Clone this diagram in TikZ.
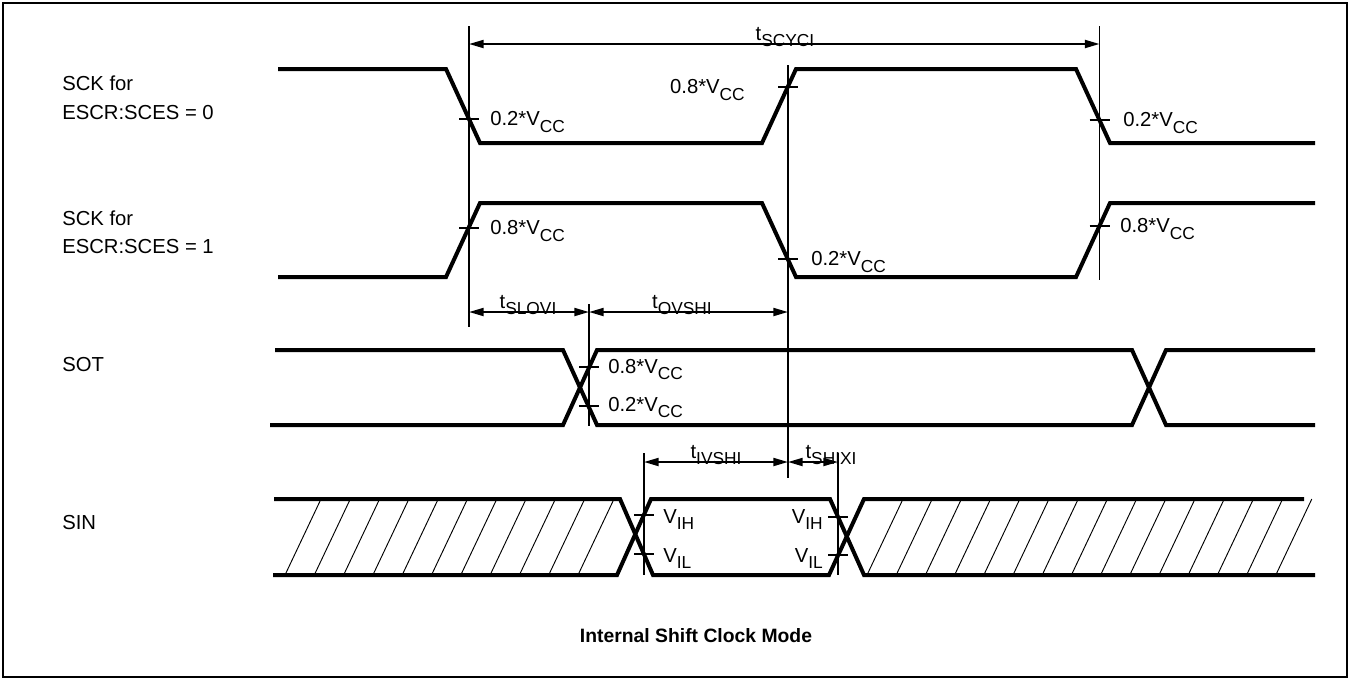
\documentclass[tikz,border=0pt]{standalone}
\usepackage{fontspec}
\setmainfont{Liberation Sans}
\usetikzlibrary{arrows.meta}
\newcommand{\lowsub}[1]{\raisebox{-5pt}{\fontsize{13pt}{13pt}\selectfont #1}}
\tikzset{
  wave/.style={line width=3pt, line join=miter, line cap=butt},
  refline/.style={line width=1.3pt},
  tickmark/.style={line width=1.5pt},
  dimline/.style={line width=1.5pt, {Triangle[length=11pt,width=6pt]}-{Triangle[length=11pt,width=6pt]}},
  hatchline/.style={line width=0.7pt},
  lbl/.style={inner sep=0pt, font=\fontsize{15.2pt}{18pt}\selectfont},
}
\begin{document}
\begin{tikzpicture}[x=0.75pt,y=-0.75pt]
\useasboundingbox (0,0) rectangle (1352,679);
\draw[line width=1.5pt] (2.5,2.5) rectangle (1346.5,676.5);

% signal names
\node[lbl,anchor=base west] (n1a) at (62,90.7) {SCK for};
\node[lbl,anchor=base west] (n1b) at (62,119) {ESCR:SCES = 0};
\node[lbl,anchor=base west] (n2a) at (62,225) {SCK for};
\node[lbl,anchor=base west] (n2b) at (62,253) {ESCR:SCES = 1};
\node[lbl,anchor=base west] (n3) at (62,371) {SOT};
\node[lbl,anchor=base west] (n4) at (62,529) {SIN};

% waveforms
\draw[wave] (278,69) -- (446,69) -- (480,143) -- (762,143) -- (796,69) -- (1076,69) -- (1110,143) -- (1315,143);
\draw[wave] (278,277) -- (446,277) -- (480,203) -- (762,203) -- (796,277) -- (1076,277) -- (1110,203) -- (1315,203);
\draw[wave] (275,350) -- (563,350) -- (597,425) -- (1132,425) -- (1166,350) -- (1315,350);
\draw[wave] (270,425) -- (563,425) -- (597,350) -- (1132,350) -- (1166,425) -- (1315,425);
\draw[wave] (274,499) -- (620,499) -- (653,575) -- (829,575) -- (864,499) -- (1304,499);
\draw[wave] (273,575) -- (617,575) -- (651,499) -- (830,499) -- (864,575) -- (1315,575);

% hatching
\foreach \i in {0,...,10} {
  \draw[hatchline] ({285+29.3*\i},575) -- ({321+29.3*\i},499);
}
\foreach \i in {0,...,14} {
  \draw[hatchline] ({867+29.2*\i},575) -- ({903+29.2*\i},499);
}

% reference lines
\coordinate (v1t) at (469,26);   \coordinate (v1b) at (469,327);
\coordinate (v2t) at (788,65);   \coordinate (v2b) at (788,478);
\coordinate (v3t) at (1099.5,26);\coordinate (v3b) at (1099.5,280);
\coordinate (v4t) at (589,304);  \coordinate (v4b) at (589,426);
\coordinate (v5t) at (644,453);  \coordinate (v5b) at (644,575);
\coordinate (v6t) at (838,453);  \coordinate (v6b) at (838,575);
\draw[refline] (v1t) -- (v1b);
\draw[refline] (v2t) -- (v2b);
\draw[refline] (v3t) -- (v3b);
\draw[refline] (v4t) -- (v4b);
\draw[refline] (v5t) -- (v5b);
\draw[refline] (v6t) -- (v6b);

% ticks
\foreach \x/\y in {469/119, 788/87, 1099.5/120, 469/228, 788/259, 1099.5/226,
                   589/367, 589/406, 644/515, 644/554, 838/517, 838/555} {
  \draw[tickmark] (\x-10,\y) -- (\x+10,\y);
}

% dimension arrows
\coordinate (d1a) at (469,44);  \coordinate (d1b) at (1099.5,44);
\coordinate (d2a) at (469,312); \coordinate (d2b) at (589,312); \coordinate (d2c) at (788,312);
\coordinate (d3a) at (644,462); \coordinate (d3b) at (788,462); \coordinate (d3c) at (838,462);
\draw[dimline] (d1a) -- (d1b);
\draw[dimline] (d2a) -- (d2b);
\draw[dimline] (d2b) -- (d2c);
\draw[dimline] (d3a) -- (d3b);
\draw[dimline] (d3b) -- (d3c);

\node[lbl,anchor=base] (tscyc) at (785,40) {t\lowsub{SCYCI}};
\node[lbl,anchor=base] (tslov) at (528,308) {t\lowsub{SLOVI}};
\node[lbl,anchor=base] (tovsh) at (682,308) {t\lowsub{OVSHI}};
\node[lbl,anchor=base] (tivsh) at (716,458) {t\lowsub{IVSHI}};
\node[lbl,anchor=base] (tshix) at (831,458) {t\lowsub{SHIXI}};

% level labels
\node[lbl,anchor=base west] (l1) at (490,125.5) {0.2*V\lowsub{CC}};
\node[lbl,anchor=base east] (l2) at (745,93.5) {0.8*V\lowsub{CC}};
\node[lbl,anchor=base west] (l3) at (1123,126.5) {0.2*V\lowsub{CC}};
\node[lbl,anchor=base west] (l4) at (490,234.5) {0.8*V\lowsub{CC}};
\node[lbl,anchor=base west] (l5) at (811,265.5) {0.2*V\lowsub{CC}};
\node[lbl,anchor=base west] (l6) at (1120,232.5) {0.8*V\lowsub{CC}};
\node[lbl,anchor=base west] (l7) at (608,373) {0.8*V\lowsub{CC}};
\node[lbl,anchor=base west] (l8) at (608,411) {0.2*V\lowsub{CC}};
\node[lbl,anchor=base west] (l9) at (663,523) {V\lowsub{IH}};
\node[lbl,anchor=base west] (l10) at (663,562) {V\lowsub{IL}};
\node[lbl,anchor=base east] (l11) at (823,523) {V\lowsub{IH}};
\node[lbl,anchor=base east] (l12) at (823,562) {V\lowsub{IL}};

\node[lbl,anchor=base,font=\fontsize{14.5pt}{17pt}\selectfont\bfseries] (cap) at (696,642) {Internal Shift Clock Mode};
\end{tikzpicture}
\end{document}
